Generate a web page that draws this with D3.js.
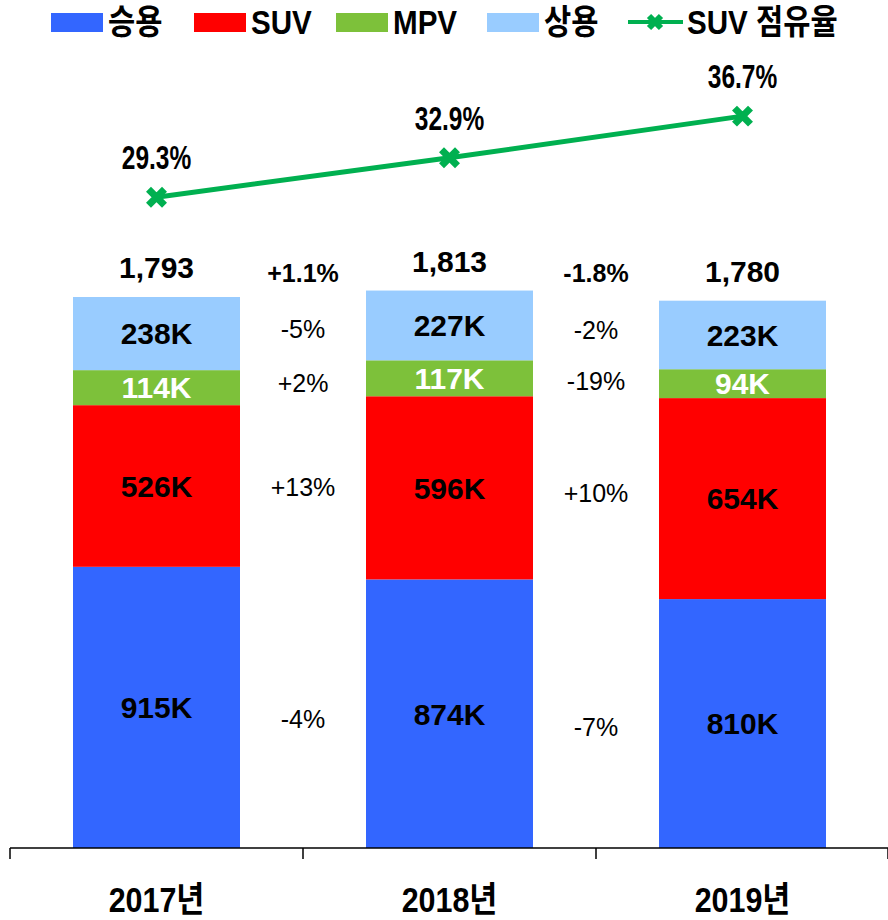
<!DOCTYPE html>
<html>
<head>
<meta charset="utf-8">
<script src="https://cdn.jsdelivr.net/npm/d3@7"></script>
<style>
  body { margin: 0; background: #fff; }
  text { font-family: Arial, "Liberation Sans", "Noto Sans CJK KR", sans-serif; }
</style>
</head>
<body>
<script>
var years = ["2017년", "2018년", "2019년"];
var seriesNames = ["승용", "SUV", "MPV", "상용"];
var sedan = [915, 874, 810];
var suv = [526, 596, 654];
var mpv = [114, 117, 94];
var commercial = [238, 227, 223];
var totals = ["1,793", "1,813", "1,780"];
var suvShare = [29.3, 32.9, 36.7];
var totalChange = ["+1.1%", "-1.8%"];
var sedanChange = ["-4%", "-7%"];
var suvChange = ["+13%", "+10%"];
var mpvChange = ["+2%", "-19%"];
var commChange = ["-5%", "-2%"];

var colors = ["#3366ff", "#ff0000", "#7dc13a", "#99ccff"];
var lineColor = "#00b050";

var width = 888, height = 920;
var svg = d3.select("body").append("svg")
  .attr("width", width).attr("height", height);

var x = d3.scaleBand().domain(years).range([10, 889]).paddingInner(0).paddingOuter(0);
var barW = 167;
var y = d3.scaleLinear().domain([0, 1793]).range([848, 297]);
var y2 = d3.scaleLinear().domain([0, 40]).range([518, 80]);

// stacked data
var rows = years.map(function (yr, i) {
  return { year: yr, "승용": sedan[i], "SUV": suv[i], "MPV": mpv[i], "상용": commercial[i] };
});
var stack = d3.stack().keys(seriesNames)(rows);

var bx = function (yr) { return x(yr) + x.bandwidth() / 2 - barW / 2; };

stack.forEach(function (layer, li) {
  svg.append("g").selectAll("rect")
    .data(layer)
    .enter().append("rect")
    .attr("x", function (d) { return bx(d.data.year); })
    .attr("width", barW)
    .attr("y", function (d) { return y(d[1]); })
    .attr("height", function (d) { return y(d[0]) - y(d[1]); })
    .attr("fill", colors[li]);

  svg.append("g").selectAll("text")
    .data(layer)
    .enter().append("text")
    .attr("x", function (d) { return x(d.data.year) + x.bandwidth() / 2; })
    .attr("y", function (d) { return (y(d[0]) + y(d[1])) / 2; })
    .attr("dy", "0.36em")
    .attr("text-anchor", "middle")
    .attr("font-size", 30)
    .attr("font-weight", "bold")
    .attr("fill", li == 2 ? "#fff" : "#000")
    .text(function (d) { return (d[1] - d[0]) + "K"; });
});

// totals
svg.append("g").selectAll("text")
  .data(years)
  .enter().append("text")
  .attr("x", function (d) { return x(d) + x.bandwidth() / 2; })
  .attr("y", function (d, i) { return y(d3.sum(seriesNames, function (k) { return rows[i][k]; })) - 19; })
  .attr("text-anchor", "middle")
  .attr("font-size", 30)
  .attr("font-weight", "bold")
  .text(function (d, i) { return totals[i]; });

// change labels between bars
var changeSets = [sedanChange, suvChange, mpvChange, commChange];
changeSets.forEach(function (labels, li) {
  svg.append("g").selectAll("text")
    .data(labels)
    .enter().append("text")
    .attr("x", function (d, i) { return x(years[i + 1]); })
    .attr("y", function (d, i) {
      var a = stack[li][i], b = stack[li][i + 1];
      var mid = ((y(a[0]) + y(a[1])) / 2 + (y(b[0]) + y(b[1])) / 2) / 2;
      return li == 0 ? mid + 8 : mid;
    })
    .attr("dy", "0.36em")
    .attr("text-anchor", "middle")
    .attr("font-size", 25)
    .text(function (d) { return d; });
});
svg.append("g").selectAll("text")
  .data(totalChange)
  .enter().append("text")
  .attr("x", function (d, i) { return x(years[i + 1]); })
  .attr("y", 282)
  .attr("text-anchor", "middle")
  .attr("font-size", 25)
  .attr("font-weight", "bold")
  .text(function (d) { return d; });

// axis
var axis = svg.append("g").attr("transform", "translate(0,848)");
axis.append("line").attr("x1", 10).attr("x2", 888).attr("stroke", "#000").attr("stroke-width", 1.5);
axis.selectAll(".tick")
  .data(years.concat(["end"]))
  .enter().append("line")
  .attr("x1", function (d, i) { return i < 3 ? x(d) : 888; })
  .attr("x2", function (d, i) { return i < 3 ? x(d) : 888; })
  .attr("y1", 0).attr("y2", 11)
  .attr("stroke", "#000").attr("stroke-width", 1.5);
svg.append("g").selectAll("text")
  .data(years)
  .enter().append("text")
  .attr("transform", function (d) { return "translate(" + (x(d) + x.bandwidth() / 2) + ",912) scale(0.87,1)"; })
  .attr("text-anchor", "middle")
  .attr("font-size", 35)
  .attr("font-weight", "bold")
  .text(function (d) { return d; });

// SUV share line
var cx = function (i) { return x(years[i]) + x.bandwidth() / 2; };
svg.append("path")
  .datum(suvShare)
  .attr("fill", "none")
  .attr("stroke", lineColor)
  .attr("stroke-width", 5)
  .attr("d", d3.line().x(function (d, i) { return cx(i); }).y(function (d) { return y2(d); }));

function marker(g, px, py, s, w) {
  g.append("path")
    .attr("d", "M" + (px - s) + "," + (py - s) + "L" + (px + s) + "," + (py + s) +
      "M" + (px - s) + "," + (py + s) + "L" + (px + s) + "," + (py - s))
    .attr("stroke", lineColor).attr("stroke-width", w).attr("fill", "none");
}
var mg = svg.append("g");
suvShare.forEach(function (d, i) { marker(mg, cx(i), y2(d), 8, 7); });

svg.append("g").selectAll("text")
  .data(suvShare)
  .enter().append("text")
  .attr("transform", function (d, i) { return "translate(" + cx(i) + "," + (y2(d) - 28) + ") scale(0.72,1)"; })
  .attr("text-anchor", "middle")
  .attr("font-size", 34)
  .attr("font-weight", "bold")
  .text(function (d) { return d.toFixed(1) + "%"; });

// legend
var legendItems = [
  { name: "승용", x: 51, type: "rect", color: colors[0] },
  { name: "SUV", x: 194, type: "rect", color: colors[1] },
  { name: "MPV", x: 336, type: "rect", color: colors[2] },
  { name: "상용", x: 487, type: "rect", color: colors[3] },
  { name: "SUV 점유율", x: 628, type: "line", color: lineColor }
];
var lg = svg.append("g");
legendItems.forEach(function (it) {
  if (it.type == "rect") {
    lg.append("rect").attr("x", it.x).attr("y", 13).attr("width", 52).attr("height", 19).attr("fill", it.color);
  } else {
    lg.append("line").attr("x1", it.x).attr("x2", it.x + 55).attr("y1", 22).attr("y2", 22)
      .attr("stroke", it.color).attr("stroke-width", 4);
    marker(lg, it.x + 27, 22, 6, 6);
  }
  lg.append("text")
    .attr("transform", "translate(" + (it.x + (it.type == "rect" ? 57 : 59)) + ",22) scale(0.87,1)")
    .attr("dy", "0.36em")
    .attr("font-size", 34)
    .attr("font-weight", "bold")
    .text(it.name);
});
</script>
</body>
</html>
